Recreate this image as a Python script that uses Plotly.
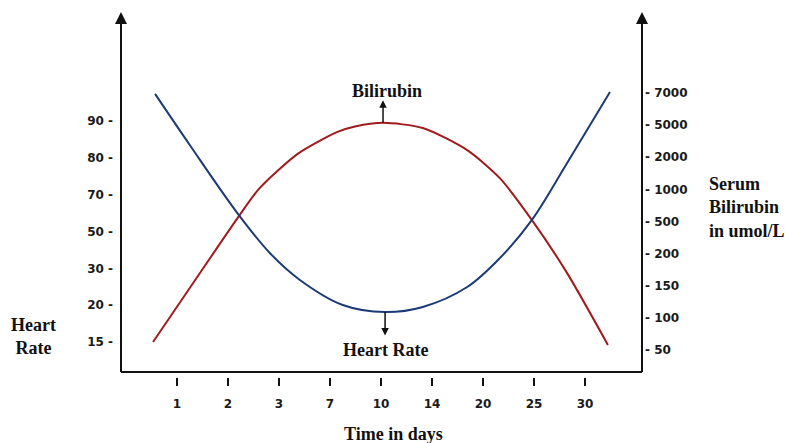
import plotly.graph_objects as go

# ---- tick labels (ordinal axes: ticks are equally spaced) ----
day_labels = ["1", "2", "3", "7", "10", "14", "20", "25", "30"]
hr_labels = ["15", "20", "30", "50", "70", "80", "90"]
bili_labels = ["50", "100", "150", "200", "500", "1000", "2000", "5000", "7000"]

# ---- curves, in ordinal axis units (tick index; "1" day tick = 1) ----
# blue curve, read against the right (serum bilirubin) axis
blue_x = [0.57, 1.25, 2.18, 2.82, 3.41, 4.25, 5.08, 5.82, 6.69, 7.33, 7.96, 8.65, 9.49]
blue_y = [7.97, 6.38, 4.27, 3.02, 2.18, 1.40, 1.18, 1.34, 1.96, 2.86, 4.05, 5.82, 8.03]
# red curve, read against the left (heart rate) axis
red_x = [0.53, 1.37, 2.20, 2.59, 2.99, 3.38, 3.77, 4.16, 4.49, 5.04, 5.82, 6.69, 7.33, 7.96, 8.65, 9.45]
red_y = [0.00, 1.71, 3.39, 4.13, 4.67, 5.12, 5.44, 5.71, 5.85, 5.95, 5.81, 5.21, 4.45, 3.31, 1.87, -0.08]

RED = "#a01c1c"
BLUE = "#1c3a78"
TICKFONT = dict(family="DejaVu Sans", size=12, color="#1a1a1a", weight="bold")
SERIF = dict(family="Liberation Serif", size=18, color="#111111", weight="bold")

fig = go.Figure()
fig.add_trace(go.Scatter(x=red_x, y=red_y, mode="lines", name="Bilirubin",
                         line=dict(color=RED, width=2, shape="spline", smoothing=0.7),
                         yaxis="y", cliponaxis=False))
fig.add_trace(go.Scatter(x=blue_x, y=blue_y, mode="lines", name="Heart Rate",
                         line=dict(color=BLUE, width=2, shape="spline", smoothing=1.0),
                         yaxis="y2", cliponaxis=False))

W, H = 785, 443
L, R, T, B = 121, 143, 12, 57
ph = H - T - B
pw = W - L - R
axis_y = (H - B - 372) / ph  # paper y of the drawn x-axis line

fig.update_layout(
    width=W, height=H,
    margin=dict(l=L, r=R, t=T, b=B, autoexpand=False),
    paper_bgcolor="white", plot_bgcolor="white",
    showlegend=False,
    xaxis=dict(range=[-0.098, 10.118], tickmode="array",
               tickvals=list(range(1, len(day_labels) + 1)), ticktext=day_labels,
               ticks="inside", ticklen=8, tickwidth=2, tickcolor="#111",
               showline=False, showgrid=False, zeroline=False, automargin=False,
               tickfont=TICKFONT, ticklabelstandoff=9, fixedrange=True),
    yaxis=dict(range=[-1.195, 8.96], tickmode="array",
               tickvals=list(range(len(hr_labels))),
               ticktext=[t + " -" for t in hr_labels], automargin=False,
               ticks="", showline=False, showgrid=False, zeroline=False,
               tickfont=TICKFONT, ticklabelstandoff=7),
    yaxis2=dict(range=[-1.121, 10.52], tickmode="array", overlaying="y", side="right",
                tickvals=list(range(len(bili_labels))),
                ticktext=["- " + t for t in bili_labels], automargin=False,
                ticks="", showline=False, showgrid=False, zeroline=False,
                tickfont=TICKFONT, ticklabelstandoff=2),
)

# axis lines
line = dict(color="#111", width=2)
fig.add_shape(type="line", xref="paper", yref="paper", x0=0, x1=1, y0=axis_y, y1=axis_y, line=line)
fig.add_shape(type="line", xref="paper", yref="paper", x0=0, x1=0, y0=axis_y, y1=0.985, line=line)
fig.add_shape(type="line", xref="paper", yref="paper", x0=1, x1=1, y0=axis_y, y1=0.985, line=line)
for xp in (0, 1):
    fig.add_annotation(xref="paper", yref="paper", x=xp, y=1.0, ax=0, ay=14,
                       axref="pixel", ayref="pixel", text="", showarrow=True,
                       arrowhead=2, arrowsize=1.2, arrowwidth=2, arrowcolor="#111")

# peak / trough markers
ri = red_y.index(max(red_y))
bi = blue_y.index(min(blue_y))
fig.add_annotation(x=red_x[ri], y=max(red_y), xref="x", yref="y", text="", showarrow=True,
                   ax=0, ay=-24, arrowside="start", arrowhead=2, startarrowhead=2,
                   arrowsize=1, arrowwidth=1.5, arrowcolor="#111")
fig.add_annotation(x=red_x[ri] + 0.08, y=max(red_y), xref="x", yref="y", text="Bilirubin",
                   showarrow=False, yshift=32, font=SERIF)
fig.add_annotation(x=blue_x[bi], y=min(blue_y), xref="x", yref="y2", text="", showarrow=True,
                   ax=0, ay=25, arrowside="start", arrowhead=2, startarrowhead=2,
                   arrowsize=1, arrowwidth=1.5, arrowcolor="#111")
fig.add_annotation(x=blue_x[bi], y=min(blue_y), xref="x", yref="y2", text="Heart Rate",
                   showarrow=False, yshift=-38, font=SERIF)

# axis titles
fig.add_annotation(xref="paper", yref="paper", x=(33 - L) / pw, y=(H - B - 336) / ph,
                   text="Heart<br>Rate", showarrow=False, font=SERIF, align="center",
                   xanchor="center", yanchor="middle")
fig.add_annotation(xref="paper", yref="paper", x=(707 - L) / pw, y=(H - B - 207) / ph,
                   text="Serum<br>Bilirubin<br>in umol/L", showarrow=False, font=SERIF,
                   align="left", xanchor="left", yanchor="middle")
fig.add_annotation(xref="paper", yref="paper", x=(393 - L) / pw, y=(H - B - 434) / ph,
                   text="Time in days", showarrow=False, font=SERIF,
                   xanchor="center", yanchor="middle")

fig.write_html("out.html", config={"displayModeBar": False},
               post_script="document.body.style.margin='0';")
